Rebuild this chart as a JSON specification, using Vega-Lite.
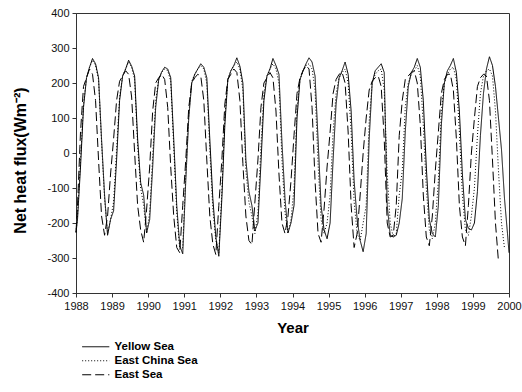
{
  "$schema": "https://vega.github.io/schema/vega-lite/v6.json",
  "width": 433,
  "height": 280,
  "autosize": {"type": "none"},
  "padding": {"left": 76, "top": 13, "right": 13, "bottom": 99},
  "background": "white",
  "config": {
    "font": "Liberation Sans",
    "view": {"stroke": "#333333", "strokeWidth": 1},
    "axis": {"domainColor": "#333333", "tickColor": "#333333", "labelColor": "#111111", "titleColor": "#000000", "grid": false, "labelFont": "Liberation Sans", "titleFont": "Liberation Sans"}
  },
  "data": {
    "values": [
      {"t": 1988.0, "Yellow Sea": -228, "East China Sea": -226, "East Sea": -225},
      {"t": 1988.042, "Yellow Sea": -190, "East China Sea": -180, "East Sea": -150},
      {"t": 1988.125, "Yellow Sea": -40, "East China Sea": -20, "East Sea": 60},
      {"t": 1988.208, "Yellow Sea": 130, "East China Sea": 140, "East Sea": 190},
      {"t": 1988.292, "Yellow Sea": 215, "East China Sea": 215, "East Sea": 215},
      {"t": 1988.375, "Yellow Sea": 245, "East China Sea": 245, "East Sea": 240},
      {"t": 1988.458, "Yellow Sea": 270, "East China Sea": 265, "East Sea": 225},
      {"t": 1988.542, "Yellow Sea": 255, "East China Sea": 250, "East Sea": 150},
      {"t": 1988.625, "Yellow Sea": 215, "East China Sea": 210, "East Sea": -20},
      {"t": 1988.708, "Yellow Sea": 40, "East China Sea": 30, "East Sea": -180},
      {"t": 1988.792, "Yellow Sea": -120, "East China Sea": -130, "East Sea": -235},
      {"t": 1988.875, "Yellow Sea": -235, "East China Sea": -230, "East Sea": -180},
      {"t": 1988.958, "Yellow Sea": -190, "East China Sea": -190, "East Sea": -60},
      {"t": 1989.042, "Yellow Sea": -165, "East China Sea": -140, "East Sea": 40},
      {"t": 1989.125, "Yellow Sea": -20, "East China Sea": 10, "East Sea": 150},
      {"t": 1989.208, "Yellow Sea": 150, "East China Sea": 160, "East Sea": 205},
      {"t": 1989.292, "Yellow Sea": 220, "East China Sea": 220, "East Sea": 220},
      {"t": 1989.375, "Yellow Sea": 240, "East China Sea": 240, "East Sea": 235},
      {"t": 1989.458, "Yellow Sea": 265, "East China Sea": 260, "East Sea": 225},
      {"t": 1989.542, "Yellow Sea": 248, "East China Sea": 245, "East Sea": 160},
      {"t": 1989.625, "Yellow Sea": 220, "East China Sea": 210, "East Sea": 0},
      {"t": 1989.708, "Yellow Sea": 40, "East China Sea": 20, "East Sea": -150},
      {"t": 1989.792, "Yellow Sea": -85, "East China Sea": -100, "East Sea": -220},
      {"t": 1989.875, "Yellow Sea": -120, "East China Sea": -150, "East Sea": -255},
      {"t": 1989.958, "Yellow Sea": -228, "East China Sea": -230, "East Sea": -160},
      {"t": 1990.042, "Yellow Sea": -190, "East China Sea": -170, "East Sea": -40},
      {"t": 1990.125, "Yellow Sea": -40, "East China Sea": -10, "East Sea": 120},
      {"t": 1990.208, "Yellow Sea": 130, "East China Sea": 150, "East Sea": 200},
      {"t": 1990.292, "Yellow Sea": 210, "East China Sea": 210, "East Sea": 215},
      {"t": 1990.375, "Yellow Sea": 232, "East China Sea": 230, "East Sea": 225},
      {"t": 1990.458, "Yellow Sea": 245, "East China Sea": 240, "East Sea": 210},
      {"t": 1990.542, "Yellow Sea": 240, "East China Sea": 235, "East Sea": 130},
      {"t": 1990.625, "Yellow Sea": 215, "East China Sea": 205, "East Sea": -40},
      {"t": 1990.708, "Yellow Sea": 40, "East China Sea": 20, "East Sea": -180},
      {"t": 1990.792, "Yellow Sea": -150, "East China Sea": -170, "East Sea": -270},
      {"t": 1990.875, "Yellow Sea": -265, "East China Sea": -275, "East Sea": -285},
      {"t": 1990.958, "Yellow Sea": -288, "East China Sea": -270, "East Sea": -150},
      {"t": 1991.042, "Yellow Sea": -80, "East China Sea": -60, "East Sea": -20},
      {"t": 1991.125, "Yellow Sea": 100, "East China Sea": 110, "East Sea": 130},
      {"t": 1991.208, "Yellow Sea": 200, "East China Sea": 205, "East Sea": 200},
      {"t": 1991.292, "Yellow Sea": 225, "East China Sea": 225, "East Sea": 215},
      {"t": 1991.375, "Yellow Sea": 240, "East China Sea": 240, "East Sea": 225},
      {"t": 1991.458, "Yellow Sea": 255, "East China Sea": 250, "East Sea": 220},
      {"t": 1991.542, "Yellow Sea": 245, "East China Sea": 240, "East Sea": 150},
      {"t": 1991.625, "Yellow Sea": 215, "East China Sea": 200, "East Sea": -20},
      {"t": 1991.708, "Yellow Sea": 40, "East China Sea": 10, "East Sea": -180},
      {"t": 1991.792, "Yellow Sea": -130, "East China Sea": -160, "East Sea": -260},
      {"t": 1991.875, "Yellow Sea": -240, "East China Sea": -250, "East Sea": -290},
      {"t": 1991.958, "Yellow Sea": -295, "East China Sea": -285, "East Sea": -150},
      {"t": 1992.042, "Yellow Sea": -130, "East China Sea": -110, "East Sea": -20},
      {"t": 1992.125, "Yellow Sea": 80, "East China Sea": 100, "East Sea": 140},
      {"t": 1992.208, "Yellow Sea": 210, "East China Sea": 210, "East Sea": 210},
      {"t": 1992.292, "Yellow Sea": 235, "East China Sea": 235, "East Sea": 225},
      {"t": 1992.375, "Yellow Sea": 250, "East China Sea": 250, "East Sea": 240},
      {"t": 1992.458, "Yellow Sea": 272, "East China Sea": 260, "East Sea": 230},
      {"t": 1992.542, "Yellow Sea": 248, "East China Sea": 240, "East Sea": 150},
      {"t": 1992.625, "Yellow Sea": 200, "East China Sea": 180, "East Sea": -30},
      {"t": 1992.708, "Yellow Sea": -20, "East China Sea": -50, "East Sea": -180},
      {"t": 1992.792, "Yellow Sea": -110, "East China Sea": -140, "East Sea": -250},
      {"t": 1992.875, "Yellow Sea": -150, "East China Sea": -180, "East Sea": -262},
      {"t": 1992.958, "Yellow Sea": -222, "East China Sea": -230, "East Sea": -140},
      {"t": 1993.042, "Yellow Sea": -200, "East China Sea": -170, "East Sea": -20},
      {"t": 1993.125, "Yellow Sea": -30, "East China Sea": 20, "East Sea": 130},
      {"t": 1993.208, "Yellow Sea": 150, "East China Sea": 170, "East Sea": 200},
      {"t": 1993.292, "Yellow Sea": 220, "East China Sea": 220, "East Sea": 215},
      {"t": 1993.375, "Yellow Sea": 240, "East China Sea": 240, "East Sea": 230},
      {"t": 1993.458, "Yellow Sea": 270, "East China Sea": 255, "East Sea": 215},
      {"t": 1993.542, "Yellow Sea": 250, "East China Sea": 240, "East Sea": 120},
      {"t": 1993.625, "Yellow Sea": 225, "East China Sea": 200, "East Sea": -60},
      {"t": 1993.708, "Yellow Sea": 30, "East China Sea": -20, "East Sea": -200},
      {"t": 1993.792, "Yellow Sea": -130, "East China Sea": -170, "East Sea": -230},
      {"t": 1993.875, "Yellow Sea": -228, "East China Sea": -230, "East Sea": -180},
      {"t": 1993.958, "Yellow Sea": -200, "East China Sea": -190, "East Sea": -80},
      {"t": 1994.042, "Yellow Sea": -150, "East China Sea": -100, "East Sea": 50},
      {"t": 1994.125, "Yellow Sea": 100, "East China Sea": 130, "East Sea": 170},
      {"t": 1994.208, "Yellow Sea": 210, "East China Sea": 210, "East Sea": 215},
      {"t": 1994.292, "Yellow Sea": 235, "East China Sea": 235, "East Sea": 235},
      {"t": 1994.375, "Yellow Sea": 255, "East China Sea": 250, "East Sea": 250},
      {"t": 1994.458, "Yellow Sea": 272, "East China Sea": 255, "East Sea": 240},
      {"t": 1994.542, "Yellow Sea": 260, "East China Sea": 240, "East Sea": 130},
      {"t": 1994.625, "Yellow Sea": 220, "East China Sea": 180, "East Sea": -80},
      {"t": 1994.708, "Yellow Sea": 40, "East China Sea": -30, "East Sea": -230},
      {"t": 1994.792, "Yellow Sea": -150, "East China Sea": -190, "East Sea": -255},
      {"t": 1994.875, "Yellow Sea": -220, "East China Sea": -230, "East Sea": -160},
      {"t": 1994.958, "Yellow Sea": -245, "East China Sea": -200, "East Sea": -40},
      {"t": 1995.042, "Yellow Sea": -200, "East China Sea": -120, "East Sea": 60},
      {"t": 1995.125, "Yellow Sea": -20, "East China Sea": 60, "East Sea": 170},
      {"t": 1995.208, "Yellow Sea": 140, "East China Sea": 170, "East Sea": 210},
      {"t": 1995.292, "Yellow Sea": 215, "East China Sea": 215, "East Sea": 225},
      {"t": 1995.375, "Yellow Sea": 235, "East China Sea": 230, "East Sea": 230},
      {"t": 1995.458, "Yellow Sea": 260, "East China Sea": 240, "East Sea": 200},
      {"t": 1995.542, "Yellow Sea": 225, "East China Sea": 200, "East Sea": 60},
      {"t": 1995.625, "Yellow Sea": 120, "East China Sea": 60, "East Sea": -150},
      {"t": 1995.708, "Yellow Sea": -80, "East China Sea": -140, "East Sea": -270},
      {"t": 1995.792, "Yellow Sea": -190, "East China Sea": -230, "East Sea": -230},
      {"t": 1995.875, "Yellow Sea": -250, "East China Sea": -250, "East Sea": -120},
      {"t": 1995.958, "Yellow Sea": -282, "East China Sea": -200, "East Sea": 0},
      {"t": 1996.042, "Yellow Sea": -230, "East China Sea": -150, "East Sea": 100},
      {"t": 1996.125, "Yellow Sea": 40, "East China Sea": 90, "East Sea": 180},
      {"t": 1996.208, "Yellow Sea": 200, "East China Sea": 200, "East Sea": 205},
      {"t": 1996.292, "Yellow Sea": 235, "East China Sea": 225, "East Sea": 215},
      {"t": 1996.375, "Yellow Sea": 245, "East China Sea": 235, "East Sea": 220},
      {"t": 1996.458, "Yellow Sea": 255, "East China Sea": 240, "East Sea": 190},
      {"t": 1996.542, "Yellow Sea": 230, "East China Sea": 180, "East Sea": 40},
      {"t": 1996.625, "Yellow Sea": -150, "East China Sea": -60, "East Sea": -200},
      {"t": 1996.708, "Yellow Sea": -235, "East China Sea": -200, "East Sea": -240},
      {"t": 1996.792, "Yellow Sea": -240, "East China Sea": -240, "East Sea": -235},
      {"t": 1996.875, "Yellow Sea": -235, "East China Sea": -230, "East Sea": -150},
      {"t": 1996.958, "Yellow Sea": -200, "East China Sea": -120, "East Sea": 50},
      {"t": 1997.042, "Yellow Sea": -130, "East China Sea": -50, "East Sea": 150},
      {"t": 1997.125, "Yellow Sea": 60, "East China Sea": 130, "East Sea": 210},
      {"t": 1997.208, "Yellow Sea": 190, "East China Sea": 200, "East Sea": 220},
      {"t": 1997.292, "Yellow Sea": 230, "East China Sea": 225, "East Sea": 230},
      {"t": 1997.375, "Yellow Sea": 245, "East China Sea": 235, "East Sea": 235},
      {"t": 1997.458, "Yellow Sea": 270, "East China Sea": 250, "East Sea": 200},
      {"t": 1997.542, "Yellow Sea": 245, "East China Sea": 220, "East Sea": 80},
      {"t": 1997.625, "Yellow Sea": 150, "East China Sea": 80, "East Sea": -120},
      {"t": 1997.708, "Yellow Sea": -40, "East China Sea": -100, "East Sea": -240},
      {"t": 1997.792, "Yellow Sea": -190, "East China Sea": -220, "East Sea": -265},
      {"t": 1997.875, "Yellow Sea": -230, "East China Sea": -245, "East Sea": -180},
      {"t": 1997.958, "Yellow Sea": -240, "East China Sea": -200, "East Sea": -50},
      {"t": 1998.042, "Yellow Sea": -150, "East China Sea": -80, "East Sea": 60},
      {"t": 1998.125, "Yellow Sea": 80, "East China Sea": 120, "East Sea": 170},
      {"t": 1998.208, "Yellow Sea": 200, "East China Sea": 200, "East Sea": 210},
      {"t": 1998.292, "Yellow Sea": 235, "East China Sea": 225, "East Sea": 225},
      {"t": 1998.375, "Yellow Sea": 250, "East China Sea": 240, "East Sea": 225},
      {"t": 1998.458, "Yellow Sea": 270, "East China Sea": 245, "East Sea": 180},
      {"t": 1998.542, "Yellow Sea": 230, "East China Sea": 210, "East Sea": 40},
      {"t": 1998.625, "Yellow Sea": 120, "East China Sea": 60, "East Sea": -150},
      {"t": 1998.708, "Yellow Sea": -60, "East China Sea": -120, "East Sea": -240},
      {"t": 1998.792, "Yellow Sea": -190, "East China Sea": -220, "East Sea": -265},
      {"t": 1998.875, "Yellow Sea": -215, "East China Sea": -235, "East Sea": -150},
      {"t": 1998.958, "Yellow Sea": -220, "East China Sea": -180, "East Sea": 0},
      {"t": 1999.042, "Yellow Sea": -200, "East China Sea": -100, "East Sea": 100},
      {"t": 1999.125, "Yellow Sea": -110, "East China Sea": 50, "East Sea": 190},
      {"t": 1999.208, "Yellow Sea": 50, "East China Sea": 170, "East Sea": 215},
      {"t": 1999.292, "Yellow Sea": 170, "East China Sea": 220, "East Sea": 225},
      {"t": 1999.375, "Yellow Sea": 240, "East China Sea": 235, "East Sea": 220},
      {"t": 1999.458, "Yellow Sea": 275, "East China Sea": 240, "East Sea": 150},
      {"t": 1999.542, "Yellow Sea": 250, "East China Sea": 220, "East Sea": -20},
      {"t": 1999.625, "Yellow Sea": 190, "East China Sea": 120, "East Sea": -200},
      {"t": 1999.708, "Yellow Sea": 100, "East China Sea": -50, "East Sea": -310},
      {"t": 1999.792, "Yellow Sea": 10, "East China Sea": -200},
      {"t": 1999.875, "Yellow Sea": -130, "East China Sea": -272},
      {"t": 1999.958, "Yellow Sea": -230},
      {"t": 2000.0, "Yellow Sea": -285}
    ]
  },
  "transform": [
    {"fold": ["Yellow Sea", "East China Sea", "East Sea"], "as": ["series", "v"]},
    {"filter": "isValid(datum.v)"}
  ],
  "mark": {"type": "line", "color": "#000000", "strokeWidth": 1},
  "encoding": {
    "x": {
      "field": "t", "type": "quantitative",
      "scale": {"domain": [1988, 2000], "nice": false, "zero": false},
      "axis": {
        "values": [1988, 1989, 1990, 1991, 1992, 1993, 1994, 1995, 1996, 1997, 1998, 1999, 2000],
        "format": "d", "title": "Year", "tickSize": 4, "labelFontSize": 11, "labelPadding": 3,
        "titleFontSize": 15, "titleFontWeight": "bold", "titlePadding": 9, "labelFlush": false
      }
    },
    "y": {
      "field": "v", "type": "quantitative",
      "scale": {"domain": [-400, 400], "nice": false},
      "axis": {
        "values": [-400, -300, -200, -100, 0, 100, 200, 300, 400],
        "labelExpr": "datum.value + ''", "title": "Net heat flux(Wm⁻²)", "tickSize": 4,
        "labelFontSize": 11, "labelPadding": 3, "titleFontSize": 16, "titleFontWeight": "bold",
        "titlePadding": 18, "titleY": 147, "labelFlush": false
      }
    },
    "strokeDash": {
      "field": "series", "type": "nominal",
      "scale": {"domain": ["Yellow Sea", "East China Sea", "East Sea"], "range": [[1, 0], [1, 2], [9, 4]]},
      "legend": {
        "orient": "none", "legendX": 14, "legendY": 328, "title": null, "direction": "vertical",
        "symbolType": "M-4,0H4", "symbolSize": 46, "symbolStrokeColor": "#000000", "symbolFillColor": "transparent", "symbolStrokeWidth": 1,
        "labelFont": "Liberation Sans", "labelFontSize": 11.5, "labelFontWeight": "bold", "labelColor": "#000000",
        "labelOffset": 13, "rowPadding": 1, "padding": 0
      }
    }
  }
}
